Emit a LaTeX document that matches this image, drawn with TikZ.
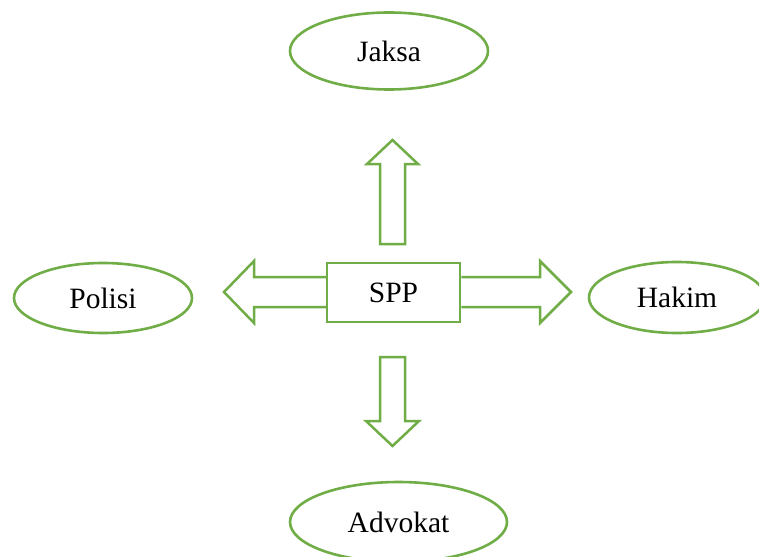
\documentclass[tikz,border=0pt]{standalone}
\usepackage{fontspec}
\setmainfont{Liberation Serif}
\usetikzlibrary{shapes.geometric}
\definecolor{ogreen}{HTML}{70AD47}
\begin{document}
\begin{tikzpicture}[x=1pt,y=-1pt,
  oval/.style={ellipse,draw=ogreen,line width=2.6pt,inner sep=0pt,font=\fontsize{29.5}{34}\selectfont},
  blockarrow/.style={draw=ogreen,line width=2.5pt,line join=miter,fill=white},
  sppbox/.style={rectangle,draw=ogreen,line width=2.5pt,inner sep=0pt,minimum width=133pt,minimum height=59pt,font=\fontsize{29.5}{34}\selectfont}]
\useasboundingbox (0,0) rectangle (759,556);
% nodes
\node[oval,minimum width=198pt,minimum height=77pt] (jaksa) at (389,51) {Jaksa};
\node[oval,minimum width=178pt,minimum height=70pt] (polisi) at (103,298) {Polisi};
\node[oval,minimum width=176pt,minimum height=71pt] (hakim) at (677,297.5) {Hakim};
\node[oval,minimum width=217pt,minimum height=80pt] (advokat) at (398.5,522) {Advokat};
\node[sppbox] (spp) at (393.5,292.5) {SPP};
% block arrows
\draw[blockarrow] (spp.west |- 0,277) -- (254,277) -- (254,261) -- (224,292) -- (254,323) -- (254,307) -- (spp.west |- 0,307);
\draw[blockarrow] (spp.east |- 0,277) -- (540,277) -- (540,261) -- (571,292) -- (540,323) -- (540,307) -- (spp.east |- 0,307);
\draw[blockarrow] (380,244) -- (380,164) -- (367,164) -- (392.5,140) -- (418,164) -- (405,164) -- (405,244) -- cycle;
\draw[blockarrow] (380,357) -- (380,421) -- (366,421) -- (392.5,446) -- (419,421) -- (405,421) -- (405,357) -- cycle;
\end{tikzpicture}
\end{document}
